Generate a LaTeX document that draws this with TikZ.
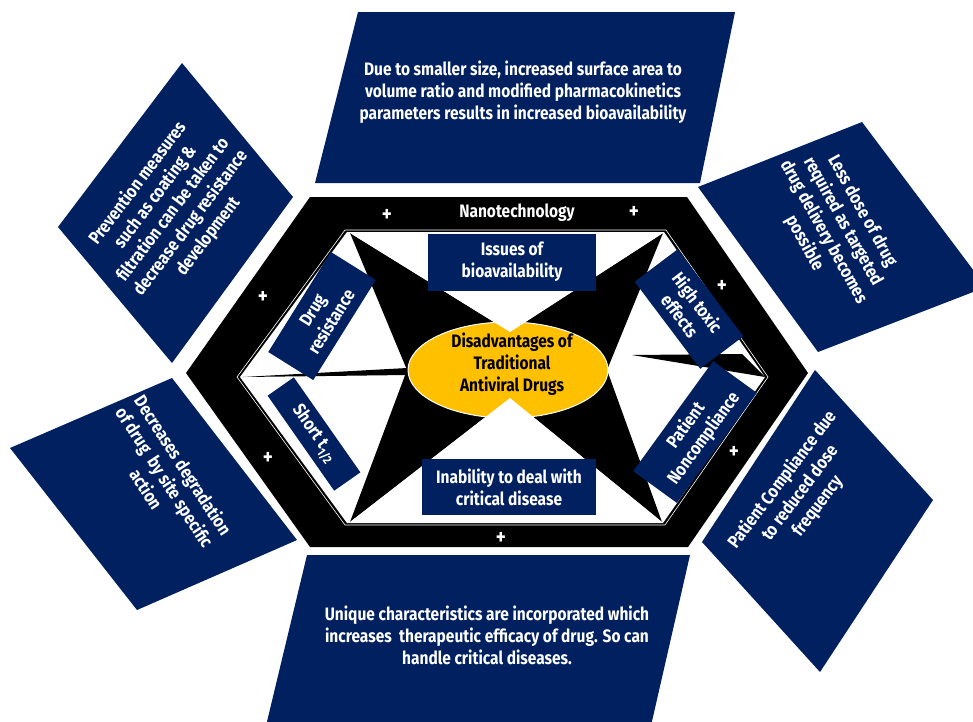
\documentclass[tikz,border=0pt]{standalone}
\usepackage{fontspec}
\setmainfont{Fira Sans}[FakeStretch=0.86]
\definecolor{navy}{HTML}{002060}
\definecolor{gold}{HTML}{FFC000}
\tikzset{
  panel/.style={fill=navy},
  paneltext/.style={text=white, align=center, inner sep=0pt,
    font=\fontsize{18}{22}\selectfont\bfseries},
  issue/.style={fill=navy, text=white, align=center, inner sep=2pt,
    font=\fontsize{18}{22}\selectfont\bfseries},
  plus/.style={text=white, inner sep=0pt, font=\fontsize{22}{22}\selectfont\bfseries}
}

\begin{document}
\begin{tikzpicture}[x=1pt,y=-1pt]
  \useasboundingbox (0,0) rectangle (973,721);
  \clip (0,0) rectangle (973,721);

  % panels round the hexagon
  \fill[panel] (358,12) -- (735,12) -- (700,183) -- (315,183) -- cycle;
  \fill[panel] (307,555) -- (690,555) -- (650,730) -- (265,730) -- cycle;
  \fill[panel] (182,63) -- (293,197) -- (172,363) -- (58,227) -- cycle;
  \fill[panel] (698,187) -- (862,122) -- (986,287) -- (818,352) -- cycle;
  \fill[panel] (172,378) -- (297,540) -- (137,610) -- (10,448) -- cycle;
  \fill[panel] (815,370) -- (933,500) -- (820,672) -- (702,542) -- cycle;

  \node[paneltext] (bioavail) at (523,92) {Due to smaller size, increased surface area to\\volume ratio and modified pharmacokinetics\\parameters results in increased bioavailability};
  \node[paneltext] (efficacy) at (487,635) {Unique characteristics are incorporated which\\increases \ therapeutic efficacy of drug. So can\\handle critical diseases.};
  \node[paneltext, rotate=53] (prevent) at (173,210) {Prevention measures\\such as coating \&\\filtration can be taken to\\decrease drug resistance\\development};
  \node[paneltext, rotate=-61] (dose) at (833,227) {Less dose of drug\\required as targeted\\drug delivery becomes\\possible};
  \node[paneltext, rotate=-57] (degrade) at (165,477) {Decreases degradation\\of drug \ by site specific\\action};
  \node[paneltext, rotate=53] (comply) at (800,493) {Patient Compliance due\\to reduced dose\\frequency};

  % hexagon
  \fill (310,197) -- (687,197) -- (808,373) -- (688,547) -- (310,547) -- (186,373) -- cycle;
  \draw[white, line width=0.6] (345,230) -- (666,230) -- (768,377) -- (665,525) -- (345,525) -- (237,377) -- cycle;
  \fill[white] (347,232) -- (664,232) -- (765,377) -- (663,523) -- (347,523) -- (240,377) -- cycle;

  % star
  \fill (350,233) -- (510,332) -- (663,233) -- (607,370) -- (662,522) -- (510,398) -- (350,522) -- (407,370) -- cycle;
  \fill (243,377) -- (407,368) -- (407,375) -- cycle;
  \fill (632,355) -- (742,354) -- (765,377) -- cycle;

  \filldraw[fill=gold, draw=white, line width=1] (508,370) ellipse [x radius=100pt, y radius=48pt];
  \fill[white] (350,233) -- (510,332) -- (663,233) -- cycle;
  \fill[white] (350,522) -- (510,398) -- (662,522) -- cycle;
  \node[align=center, inner sep=0pt, font=\fontsize{18}{22}\selectfont\bfseries] (core) at (512,364) {Disadvantages of\\Traditional\\Antiviral Drugs};

  \node[issue, minimum width=168pt, minimum height=57pt] (issues) at (512,262) {Issues of\\bioavailability};
  \node[issue, minimum width=174pt, minimum height=56pt] (critical) at (509,487) {Inability to deal with\\critical disease};
  \node[issue, rotate=58, minimum width=118pt, minimum height=53pt] (resist) at (322,316) {Drug\\resistance};
  \node[issue, rotate=-55, minimum width=116pt, minimum height=32pt] (half) at (314,434) {Short t\textsubscript{1/2}};
  \node[issue, rotate=-53, minimum width=109pt, minimum height=54pt] (toxic) at (689,309) {High toxic\\effects};
  \node[issue, rotate=54, minimum width=136pt, minimum height=54pt] (noncomp) at (695,432) {Patient\\Noncompliance};

  \node[text=white, inner sep=0pt, font=\fontsize{18}{20}\selectfont\bfseries] (nano) at (517,213) {Nanotechnology};
  \foreach \px/\py in {387/215, 634/212, 263/297, 722/286, 268/458, 734/452, 501/538}
    \node[plus] at (\px,\py) {+};
\end{tikzpicture}
\end{document}
